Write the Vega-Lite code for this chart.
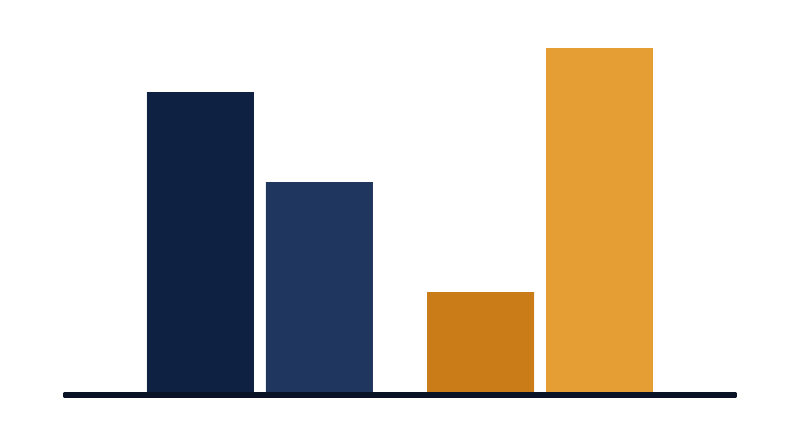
{
  "$schema": "https://vega.github.io/schema/vega-lite/v6.json",
  "width": 668,
  "height": 347,
  "autosize": "none",
  "padding": {"left": 66, "right": 66, "top": 48, "bottom": 52},
  "config": {"view": {"stroke": null}},
  "data": {
    "values": [
      {"group": "A", "pos": "1", "series": "s1", "value": 87.3},
      {"group": "A", "pos": "2", "series": "s2", "value": 61.4},
      {"group": "B", "pos": "1", "series": "s3", "value": 29.7},
      {"group": "B", "pos": "2", "series": "s4", "value": 100}
    ]
  },
  "layer": [
    {
      "mark": {"type": "bar"},
      "encoding": {
        "x": {"field": "group", "type": "nominal", "axis": null,
              "scale": {"paddingInner": 0.193, "paddingOuter": 0.289}},
        "xOffset": {"field": "pos", "type": "nominal",
                    "scale": {"paddingInner": 0.1, "paddingOuter": 0}},
        "y": {"field": "value", "type": "quantitative", "axis": null,
              "scale": {"domain": [0, 100], "nice": false}},
        "color": {"field": "series", "type": "nominal", "legend": null,
                  "scale": {"domain": ["s1", "s2", "s3", "s4"],
                            "range": ["#0f2143", "#1f365f", "#c97c17", "#e59e34"]}}
      }
    },
    {
      "mark": {"type": "rule", "color": "#0a1226", "strokeWidth": 6, "strokeCap": "round"},
      "encoding": {"y": {"datum": 0}}
    }
  ]
}
